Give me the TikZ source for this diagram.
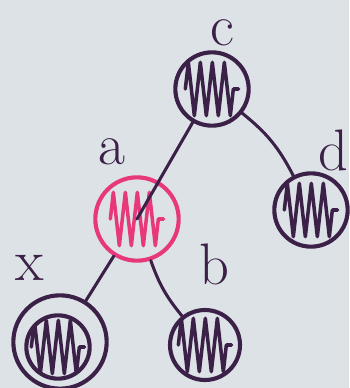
\documentclass[tikz,border=0pt]{standalone}
\usepackage{tikz}
\usetikzlibrary{calc,decorations.pathmorphing}
\definecolor{InkPurple}{HTML}{3B2048}
\definecolor{InkPink}{HTML}{E8387C}
\definecolor{Board}{HTML}{DDE2E6}

\tikzset{
  scribble/.style={decorate,decoration={zigzag,segment length=3.6mm,amplitude=8mm},line width=3pt},
  vertex/.style={circle,draw=#1,line width=3.5pt,minimum size=22mm,inner sep=0pt,
    path picture={\draw[#1,scribble] ($(path picture bounding box.center)+(-8mm,0)$) -- ($(path picture bounding box.center)+(8mm,0)$);}},
  vertex/.default=InkPurple,
  edge/.style={InkPurple,line width=2.6pt},
  tag/.style={InkPurple,inner sep=0pt,font=\fontsize{50}{52}\selectfont}
}

\begin{document}
\begin{tikzpicture}[x=0.3mm,y=-0.3mm,line cap=round,line join=round]
  \fill[Board] (0,0) rectangle (349,388);
  \useasboundingbox (0,0) rectangle (349,388);
  % nodes
  \node[vertex] (c) at (212,89) {};
  \node[vertex] (d) at (311,210) {};
  \node[vertex=InkPink,minimum size=25mm] (a) at (137,219) {};
  \node[vertex,minimum size=19mm] (x) at (58,347) {};
  \node[circle,draw=InkPurple,line width=3.5pt,minimum size=28mm] (xo) at (60,342) {};
  \node[vertex,minimum size=21mm] (b) at (205,345) {};
  % labels
  \node[tag] (lc) at (222,33) {c};
  \node[tag] (ld) at (333,150) {d};
  \node[tag] (la) at (112,152) {a};
  \node[tag] (lx) at (30,268) {x};
  \node[tag] (lb) at (214,264) {b};
  % edges
  \draw[edge] (c) -- (a.center);
  \draw[edge] (c) to[bend left=12] (d);
  \draw[edge] (a) -- (xo);
  \draw[edge] (a) to[bend right=10] (b);
\end{tikzpicture}
\end{document}
